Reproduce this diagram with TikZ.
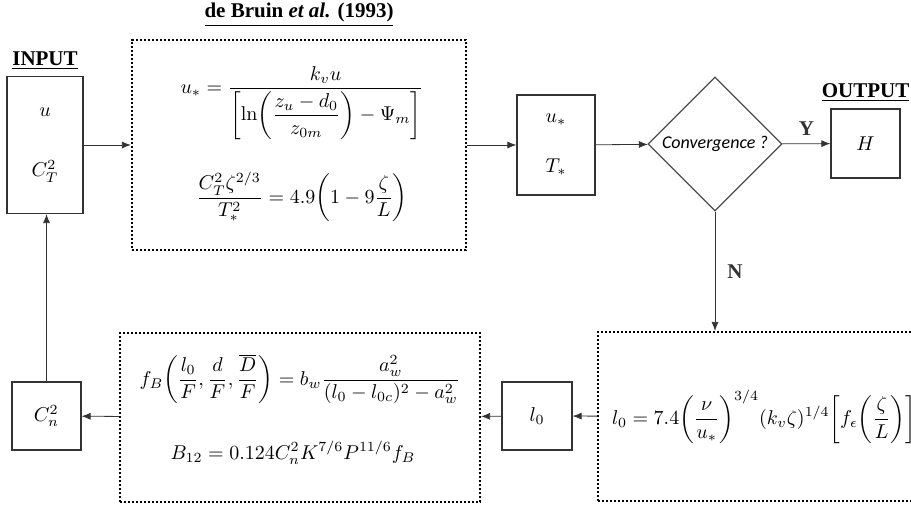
\documentclass[tikz,border=0pt]{standalone}
\usepackage{amsmath,amssymb}
\usepackage{mleftright}
\usepackage{fontspec}
\usetikzlibrary{arrows.meta,positioning,shapes.geometric}
\newfontfamily\headfont{Liberation Serif}
\newfontfamily\askfont{Carlito}

\begin{document}
\begin{tikzpicture}[x=0.5pt, y=-0.5pt,
  var/.style={draw=black!80, line width=0.6pt, align=center, inner sep=2pt},
  eqn/.style={draw, line width=1.1pt, dash pattern=on 1.1pt off 0.9pt, inner sep=4pt},
  head/.style={font=\headfont\bfseries\fontsize{10.5}{12}\selectfont, inner sep=1pt},
  ask/.style={diamond, draw=black!70, line width=0.6pt, aspect=1, inner sep=0pt, minimum width=67pt, minimum height=67pt, font=\askfont\itshape\small},
  >={Latex[length=4.5pt,width=3.5pt]}, node distance=2pt]
\useasboundingbox (0,0) rectangle (911,509);
\clip (0,0) rectangle (911,509);
% top row
\node[var, minimum width=38pt, minimum height=68.5pt] (inp) at (45,145) {$u$\\[18pt]$C_T^2$};
\node[head, above=of inp] (intitle) {\underline{INPUT}};
\node[eqn, minimum width=167pt, minimum height=105pt] (eqa) at (299,145) {};
\node[inner sep=0pt] (ustar) at (302,103) {$\displaystyle u_* = \frac{k_v u}{\mleft[\ln\mleft(\dfrac{z_u-d_0}{z_{0m}}\mright)-\Psi_m\mright]}$};
\node[inner sep=0pt] (ctwo) at (302,197) {$\displaystyle \frac{C_T^2\zeta^{2/3}}{T_*^2} = 4.9\mleft(1-9\frac{\zeta}{L}\mright)$};
\node[head, above=5pt of eqa] (eqatitle) {\underline{de Bruin \textit{et al.} (1993)}};
\node[var, minimum width=39pt, minimum height=50pt] (star) at (556,145) {$u_*$\\[13pt]$T_*$};
\node[ask] (conv) at (715,144) {Convergence ?};
\node[var, minimum width=34.5pt, minimum height=34.5pt] (out) at (865.5,143.5) {$H$};
\node[head, above=of out] (outtitle) {\underline{OUTPUT}};
% bottom row
\node[eqn, anchor=west, text width=196pt, inner xsep=7pt, minimum height=84.5pt, align=left] (eqc) at (597,416.5) {$\displaystyle l_0 = 7.4\mleft(\frac{\nu}{u_*}\mright)^{3/4}(k_v\zeta)^{1/4}\mleft[f_\epsilon\mleft(\frac{\zeta}{L}\mright)\mright]^{-1/4}$};
\node[var, minimum width=35pt, minimum height=34pt] (lzero) at (537,416) {$l_0$};
\node[eqn, minimum width=180pt, minimum height=84.5pt] (eqb) at (300,417.5) {};
\node[inner sep=0pt] (fb) at (300,379) {$\displaystyle f_B\mleft(\frac{l_0}{F},\frac{d}{F},\frac{\overline{D}}{F}\mright) = b_w\frac{a_w^2}{(l_0-l_{0c})^2-a_w^2}$};
\node[inner sep=0pt] (btwelve) at (293,453) {$\displaystyle B_{12} = 0.124C_n^2K^{7/6}P^{11/6}f_B$};
\node[var, minimum width=34.5pt, minimum height=34pt] (cn) at (46.5,416) {$C_n^2$};
% connectors
\draw[->, black!80] (inp) -- (eqa);
\draw[->, black!80] (eqa) -- (star);
\draw[->, black!80] (star) -- (conv);
\draw[->, black!80] (conv) -- node[head, above=3pt]{Y} (out);
\draw[->, black!80] (conv.south) -- node[head, right=5pt]{N} (conv.south |- eqc.north);
\draw[->, black!80] (eqc) -- (lzero);
\draw[->, black!80] (lzero) -- (eqb);
\draw[->, black!80] (eqb) -- (cn);
\draw[->, black!80] (cn.north) -- (cn.north |- inp.south);
\end{tikzpicture}
\end{document}
